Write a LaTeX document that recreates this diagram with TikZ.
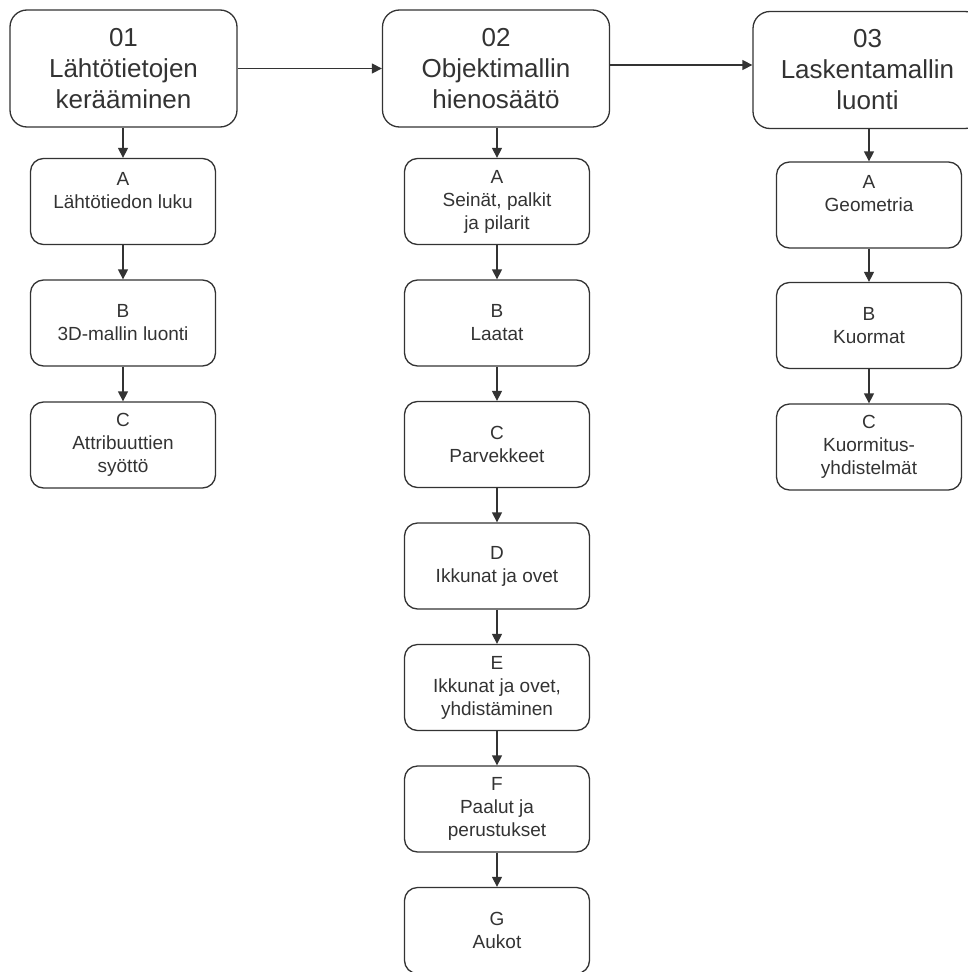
\documentclass[tikz,border=0pt]{standalone}
\usepackage{fontspec}
\setmainfont{Liberation Sans}
\usetikzlibrary{arrows.meta}
\definecolor{inkgray}{HTML}{333333}

\begin{document}
\begin{tikzpicture}[x=1pt,y=-1pt,
	phase/.style={draw=inkgray, line width=1.3pt, rounded corners=17pt, minimum width=227pt, minimum height=117pt, align=center, text=inkgray, font=\fontsize{26}{31}\selectfont},
	task/.style={draw=inkgray, line width=1.3pt, rounded corners=13pt, minimum width=185pt, minimum height=86pt, align=center, text=inkgray, font=\fontsize{19}{23}\selectfont},
	link/.style={draw=inkgray, line width=1.3pt, -{Triangle[width=10pt,length=10pt]}}]
		\useasboundingbox (0,0) rectangle (968,972);
		% phases
		\node[phase] (b01) at (123.5,68.5) {01\\Lähtötietojen\\kerääminen};
		\node[phase] (b02) at (496,68.5) {02\\Objektimallin\\hienosäätö};
		\node[phase, minimum width=229pt] (b03) at (867.5,70) {03\\Laskentamallin\\luonti};
		% tasks of phase 01
		\node[task] (a1) at (123,201.5) {A\\Lähtötiedon luku\\ \mbox{}};
		\node[task] (a2) at (123,323) {B\\3D-mallin luonti};
		\node[task] (a3) at (123,445) {C\\Attribuuttien\\syöttö};
		% tasks of phase 02
		\node[task] (o1) at (497,201.5) {A\\Seinät, palkit\\ja pilarit};
		\node[task] (o2) at (497,323) {B\\Laatat};
		\node[task] (o3) at (497,444.5) {C\\Parvekkeet};
		\node[task] (o4) at (497,566) {D\\Ikkunat ja ovet};
		\node[task] (o5) at (497,687.5) {E\\Ikkunat ja ovet,\\yhdistäminen};
		\node[task] (o6) at (497,809) {F\\Paalut ja\\perustukset};
		\node[task] (o7) at (497,930.5) {G\\Aukot};
		% tasks of phase 03
		\node[task] (c1) at (869,205) {A\\Geometria\\ \mbox{}};
		\node[task] (c2) at (869,325.5) {B\\Kuormat};
		\node[task] (c3) at (869,447) {C\\Kuormitus-\\yhdistelmät};
		% connectors
		\coordinate (out02) at ([yshift=3.5pt]b02.east);
		\draw[link] (b01.east) -- (b02.west);
		\draw[link] (out02) -- (out02 -| b03.west);
		\draw[link] (a1.north |- b01.south) -- (a1.north);
		\draw[link] (a1) -- (a2);
		\draw[link] (a2) -- (a3);
		\draw[link] (o1.north |- b02.south) -- (o1.north);
		\draw[link] (o1) -- (o2);
		\draw[link] (o2) -- (o3);
		\draw[link] (o3) -- (o4);
		\draw[link] (o4) -- (o5);
		\draw[link] (o5) -- (o6);
		\draw[link] (o6) -- (o7);
		\draw[link] (c1.north |- b03.south) -- (c1.north);
		\draw[link] (c1) -- (c2);
		\draw[link] (c2) -- (c3);
\end{tikzpicture}
\end{document}
